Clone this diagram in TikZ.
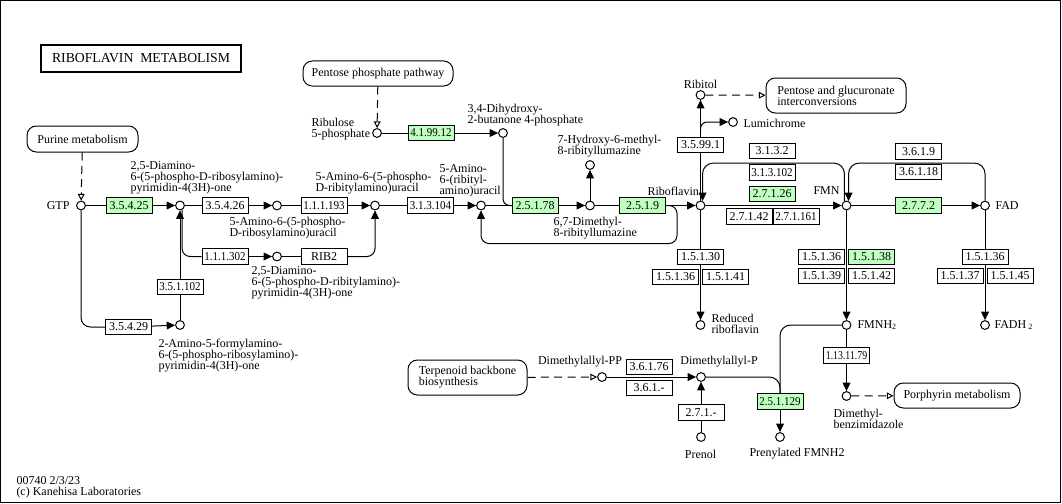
\documentclass[tikz,border=0pt]{standalone}
\usepackage{fontspec}
\setmainfont{Liberation Serif}
\usepackage{graphicx}
\usetikzlibrary{arrows.meta,calc}
\definecolor{kgreen}{RGB}{191,255,191}
\newsavebox\ecsave
\newcommand\fitec[1]{\sbox\ecsave{#1}\ifdim\wd\ecsave>31pt\resizebox{31pt}{\height}{\usebox\ecsave}\else\usebox\ecsave\fi}
\begin{document}
\begin{tikzpicture}[x=0.75pt,y=-0.75pt,line width=0.75pt,
  every node/.style={font=\fontsize{9}{8.25}\selectfont,inner sep=0pt},
  ec/.style={draw,fill=white,minimum width=34.5pt,minimum height=11.6pt,inner sep=0pt},
  eg/.style={ec,fill=kgreen},
  cpd/.style={circle,draw,fill=white,minimum size=6.6pt,inner sep=0pt},
  mapbox/.style={draw,rounded corners=7pt,align=left,inner sep=0pt},
  lbl/.style={align=left},
  arr/.style={-{Triangle[length=6.3pt,width=5.8pt]}},
  darr/.style={dash pattern=on 6pt off 4pt,-{Triangle[open,length=5pt,width=5pt]}}
]
\useasboundingbox (0,0) rectangle (1062,503);
\draw (0.5,0.5) rectangle (1060.5,502);

% title
\node[draw,line width=1.5pt,minimum width=150pt,minimum height=20.25pt,font=\fontsize{10.3}{12}\selectfont] (title) at (141,58.5) {RIBOFLAVIN\ \ METABOLISM};

% map boxes
\node[mapbox,minimum width=83.25pt,minimum height=19.5pt] (purine) at (82.5,139) {Purine metabolism};
\node[mapbox,minimum width=112.5pt,minimum height=18.75pt] (ppp) at (378,73.5) {Pentose phosphate pathway};
\node[mapbox,minimum width=105pt,minimum height=26.25pt] (pgi) at (836,95.5) {Pentose and glucuronate\\interconversions};
\node[mapbox,minimum width=89.25pt,minimum height=26.25pt] (terp) at (467.5,377.5) {Terpenoid backbone\\biosynthesis};
\node[mapbox,minimum width=94.5pt,minimum height=18.75pt] (porph) at (957,395.5) {Porphyrin metabolism};

% compounds
\node[cpd] (GTP) at (81,205.5) {};
\node[cpd] (c1) at (180,205.5) {};
\node[cpd] (c2) at (277,205.5) {};
\node[cpd] (c3) at (375,205.5) {};
\node[cpd] (c4) at (481,205.5) {};
\node[cpd] (c5) at (590,205.5) {};
\node[cpd] (c6) at (700.5,205.5) {};
\node[cpd] (c7) at (846.5,205.5) {};
\node[cpd] (c8) at (985,205.5) {};
\node[cpd] (c9) at (180,325) {};
\node[cpd] (c10) at (277,256.5) {};
\node[cpd] (c11) at (377,133) {};
\node[cpd] (c12) at (503,133) {};
\node[cpd] (c13) at (590,165) {};
\node[cpd] (c14) at (700.5,95) {};
\node[cpd] (c15) at (733,122) {};
\node[cpd] (c16) at (700.5,325) {};
\node[cpd] (c17) at (846.5,325) {};
\node[cpd] (c18) at (985,325) {};
\node[cpd] (c19) at (846.5,396) {};
\node[cpd] (c20) at (780,437) {};
\node[cpd] (c21) at (602,377) {};
\node[cpd] (c22) at (701,377) {};
\node[cpd] (c23) at (701,437) {};

% enzymes
\node[eg] (e35425) at (129,205.5) {\fitec{3.5.4.25}};
\node[ec] (e35426) at (225,205.5) {\fitec{3.5.4.26}};
\node[ec] (e111193) at (324,205.5) {\fitec{1.1.1.193}};
\node[ec] (e313104) at (430.5,205.5) {\fitec{3.1.3.104}};
\node[eg] (e25178) at (535,205.5) {\fitec{2.5.1.78}};
\node[eg] (e2519) at (642.5,205.5) {\fitec{2.5.1.9}};
\node[ec] (e111302) at (225,256.5) {\fitec{1.1.1.302}};
\node[ec] (RIB2) at (324,256.5) {RIB2};
\node[ec] (e351102) at (180,287) {\fitec{3.5.1.102}};
\node[ec] (e35429) at (128.5,327) {\fitec{3.5.4.29}};
\node[eg] (e419912) at (431,133) {\fitec{4.1.99.12}};
\node[ec] (e35991) at (700.5,145) {\fitec{3.5.99.1}};
\node[ec] (e3132) at (772,151) {\fitec{3.1.3.2}};
\node[ec] (e313102) at (772,172.5) {\fitec{3.1.3.102}};
\node[eg] (e27126) at (772,194) {\fitec{2.7.1.26}};
\node[ec] (e27142) at (749,216.5) {\fitec{2.7.1.42}};
\node[ec] (e271161) at (796,216.5) {\fitec{2.7.1.161}};
\node[ec] (e3619) at (918.5,151.5) {\fitec{3.6.1.9}};
\node[ec] (e36118) at (918.5,172) {\fitec{3.6.1.18}};
\node[eg] (e2772) at (918.5,205.5) {\fitec{2.7.7.2}};
\node[ec] (e15130) at (700.5,257) {\fitec{1.5.1.30}};
\node[ec] (e15136a) at (675.5,277) {\fitec{1.5.1.36}};
\node[ec] (e15141) at (725.5,277) {\fitec{1.5.1.41}};
\node[ec] (e15136b) at (821.5,257) {\fitec{1.5.1.36}};
\node[eg] (e15138) at (871.5,257) {\fitec{1.5.1.38}};
\node[ec] (e15139) at (821.5,276) {\fitec{1.5.1.39}};
\node[ec] (e15142) at (871.5,276) {\fitec{1.5.1.42}};
\node[ec] (e15136c) at (985,257) {\fitec{1.5.1.36}};
\node[ec] (e15137) at (960,276) {\fitec{1.5.1.37}};
\node[ec] (e15145) at (1010,276) {\fitec{1.5.1.45}};
\node[ec] (e1131179) at (846.5,355.5) {\fitec{1.13.11.79}};
\node[eg] (e251129) at (780,401.5) {\fitec{2.5.1.129}};
\node[ec] (e36176) at (649,367) {\fitec{3.6.1.76}};
\node[ec] (e361x) at (649,388) {\fitec{3.6.1.-}};
\node[ec] (e271x) at (701,412.5) {\fitec{2.7.1.-}};

% connectors: main chain
\draw (GTP) -- (e35425);
\draw[arr] (e35425) -- (c1);
\draw (c1) -- (e35426);
\draw[arr] (e35426) -- (c2);
\draw (c2) -- (e111193);
\draw[arr] (e111193) -- (c3);
\draw (c3) -- (e313104);
\draw[arr] (e313104) -- (c4);
\draw (c4) -- (e25178);
\draw[arr] (e25178) -- (c5);
\draw (c5) -- (e2519);
\draw[arr] (e2519) -- (c6);
\draw[arr] (c6) -- (c7);
\draw (c7) -- (e2772);
\draw[arr] (e2772) -- (c8);

% GTP branch
\draw[darr] (purine) -- (GTP);
\draw[rounded corners=7pt] (GTP) |- (e35429);
\draw[arr] (e35429) -- (c9);
\draw (c9) -- (e351102);
\draw[arr] (e351102) -- (c1);
\draw[rounded corners=6pt] (c1.-65) |- (e111302.west);
\draw[arr] (e111302) -- (c10);
\draw (c10) -- (RIB2);
\draw[arr,rounded corners=6pt] (RIB2.east) -| (c3.south);

% ribulose branch
\draw[darr] (ppp) -- (c11);
\draw (c11) -- (e419912);
\draw[arr] (e419912) -- (c12);
\draw[rounded corners=5pt] (c12.south) |- (e25178.west);
\draw[arr] (c5) -- (c13);
\draw[arr,rounded corners=6pt] (e2519.east) -| ($(e2519.east)+(11,38)$) -| (c4.south);

% riboflavin up
\draw (c6) -- (e35991);
\draw[arr] (e35991) -- (c14);
\coordinate (lb) at (700.5,131);
\draw[arr,rounded corners=5pt] (lb) |- (c15);
\draw[darr] (c14) -- (pgi);

% arcs back
\draw[arr,rounded corners=8pt] (c7.115) |- ($(c6.65)+(0,-38)$) -- (c6.65);
\draw[arr,rounded corners=8pt] (c8.north) |- ($(c7.65)+(0,-38)$) -- (c7.65);

% downward
\draw (c6) -- (e15130);
\draw[arr] (e15130) -- (c16);
\draw[arr] (c7) -- (c17);
\draw (c8) -- (e15136c);
\draw[arr] (e15136c) -- (c18);

% FMNH2
\draw (c17) -- (e1131179);
\draw[arr] (e1131179) -- (c19);
\draw[darr] (c19) -- (porph);
\draw[rounded corners=8pt] (c17.west) -| (e251129.north);
\draw[rounded corners=8pt] (c22.east) -| (e251129.north);
\draw[arr] (e251129) -- (c20);

% terpenoid
\draw[darr] (terp) -- (c21);
\draw[arr] (c21) -- (c22);
\draw (c23) -- (e271x);
\draw[arr] (e271x) -- (c22);

% labels
\node[anchor=east] (lGTP) at (70,205.5) {GTP};
\node[lbl,anchor=west] (l1) at (130,177.5) {2,5-Diamino-\\6-(5-phospho-D-ribosylamino)-\\pyrimidin-4(3H)-one};
\node[lbl,anchor=west] (l2) at (229,228) {5-Amino-6-(5-phospho-\\D-ribosylamino)uracil};
\node[lbl,anchor=west] (l3) at (251,283) {2,5-Diamino-\\6-(5-phospho-D-ribitylamino)-\\pyrimidin-4(3H)-one};
\node[lbl,anchor=west] (l4) at (158,355.5) {2-Amino-5-formylamino-\\6-(5-phospho-ribosylamino)-\\pyrimidin-4(3H)-one};
\node[lbl,anchor=west] (l5) at (315,183) {5-Amino-6-(5-phospho-\\D-ribitylamino)uracil};
\node[lbl,anchor=west] (l6) at (439,181) {5-Amino-\\6-(ribityl-\\amino)uracil};
\node[lbl,anchor=west] (l7) at (311,129) {Ribulose\\5-phosphate};
\node[lbl,anchor=west] (l8) at (467,115) {3,4-Dihydroxy-\\2-butanone 4-phosphate};
\node[lbl,anchor=west] (l9) at (557,146) {7-Hydroxy-6-methyl-\\8-ribityllumazine};
\node[lbl,anchor=west] (l10) at (553,228) {6,7-Dimethyl-\\8-ribityllumazine};
\node[anchor=west] (l11) at (647,191) {Riboflavin};
\node[anchor=west] (l12) at (813,191) {FMN};
\node[anchor=west] (l13) at (995,205.5) {FAD};
\node (l14) at (700.5,84) {Ribitol};
\node[anchor=west] (l15) at (743,123) {Lumichrome};
\node[lbl,anchor=west] (l16) at (711,323.5) {Reduced\\riboflavin};
\node[anchor=west] (l17) at (857,325) {FMNH\textsubscript{2}};
\node[anchor=west] (l18) at (994,325) {FADH\,\textsubscript{2}};
\node[lbl,anchor=west] (l19) at (833,419) {Dimethyl-\\benzimidazole};
\node (l20) at (797,454) {Prenylated FMNH2};
\node (l21) at (580,362) {Dimethylallyl-PP};
\node (l22) at (719,362) {Dimethylallyl-P};
\node (l23) at (700.5,454) {Prenol};
\node[lbl,anchor=west,font=\fontsize{9}{8}\selectfont] (foot) at (16,487.5) {00740 2/3/23\\(c) Kanehisa Laboratories};
\end{tikzpicture}
\end{document}
